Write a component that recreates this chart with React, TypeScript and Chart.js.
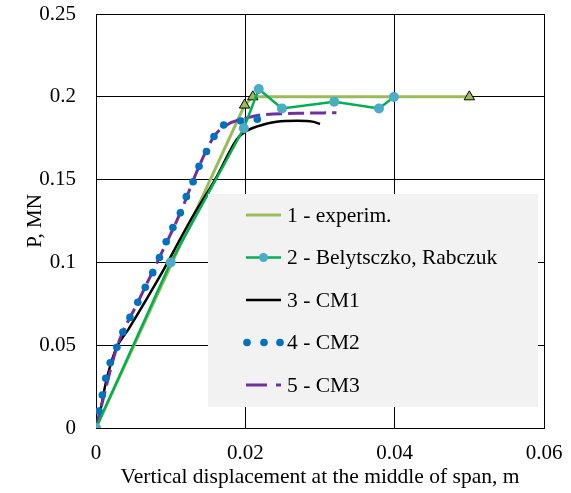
import React, { useEffect, useRef } from "react";
import { Chart, registerables } from "chart.js";

Chart.register(...registerables);

// ---- data ----
const expX = [0, 0.0199, 0.021, 0.05];
const expY = [0, 0.195, 0.2, 0.2];

const brX = [0, 0.01, 0.0198, 0.0218, 0.0249, 0.0319, 0.0379, 0.0399];
const brY = [0, 0.1, 0.181, 0.2047, 0.193, 0.197, 0.193, 0.1999];

const cm1X = [0, 0.0006, 0.0013, 0.0026, 0.0044, 0.0091, 0.0126, 0.0162, 0.0188, 0.02, 0.0215, 0.0242, 0.027, 0.029, 0.03];
const cm1Y = [0, 0.011, 0.027, 0.047, 0.06, 0.096, 0.125, 0.152, 0.174, 0.179, 0.182, 0.185, 0.1855, 0.185, 0.1836];

const cm2X = [0, 0.0004, 0.00085, 0.0013, 0.0019, 0.0028, 0.0036, 0.00455, 0.0056, 0.0066, 0.0076, 0.0085, 0.0094, 0.0103, 0.0113, 0.0121, 0.013, 0.0138, 0.0148, 0.0158, 0.0171, 0.0194, 0.0216];
const cm2Y = [0, 0.0103, 0.0199, 0.03, 0.0394, 0.0487, 0.058, 0.0668, 0.0759, 0.085, 0.0938, 0.103, 0.1125, 0.1211, 0.13, 0.1397, 0.1487, 0.158, 0.167, 0.176, 0.183, 0.1854, 0.1864];

const cm3X = [0, 0.0028, 0.0056, 0.0085, 0.0113, 0.0138, 0.0158, 0.0175, 0.02, 0.022, 0.027, 0.0322];
const cm3Y = [0, 0.0487, 0.0759, 0.103, 0.13, 0.158, 0.176, 0.183, 0.187, 0.189, 0.19, 0.1904];

const seriesNames = ["1 - experim.", "2 - Belytsczko, Rabczuk", "3 - CM1", "4 - CM2", "5 - CM3"];

const xTickLabels = ["0", "0.02", "0.04", "0.06"];
const yTickLabels = ["0", "0.05", "0.1", "0.15", "0.2", "0.25"];

const xTitle = "Vertical displacement at the middle of span, m";
const yTitle = "P, MN";

const zip = (xs: number[], ys: number[]) => xs.map((x, i) => ({ x, y: ys[i] }));

const FONT = "Liberation Serif";

const legendPlugin = {
  id: "insideLegend",
  afterDraw(chart: any) {
    const ctx = chart.ctx as CanvasRenderingContext2D;
    const ca = chart.chartArea;
    const bx = ca.left + 112;
    const by = ca.top + 180;
    const bw = 330;
    const bh = 213;
    ctx.save();
    ctx.fillStyle = "#F2F2F2";
    ctx.fillRect(bx, by, bw, bh);
    const rowY0 = by + 21;
    const rowGap = 42.5;
    const sx0 = bx + 38;
    const sx1 = bx + 73;
    const tx = bx + 79;
    ctx.font = `21.5px "${FONT}"`;
    ctx.textBaseline = "middle";
    ctx.textAlign = "left";
    seriesNames.forEach((name, i) => {
      const y = rowY0 + i * rowGap;
      const ds = chart.data.datasets[i];
      if (i === 0 || i === 1 || i === 2) {
        ctx.beginPath();
        ctx.strokeStyle = ds.borderColor;
        ctx.lineWidth = ds.borderWidth;
        ctx.moveTo(sx0, y);
        ctx.lineTo(sx1, y);
        ctx.stroke();
        if (i === 1) {
          ctx.beginPath();
          ctx.fillStyle = ds.pointBackgroundColor;
          ctx.arc((sx0 + sx1) / 2, y, 4.5, 0, Math.PI * 2);
          ctx.fill();
        }
      } else if (i === 3) {
        ctx.fillStyle = ds.pointBackgroundColor;
        [sx0 + 1, sx0 + 18, sx0 + 34].forEach((cx) => {
          ctx.beginPath();
          ctx.arc(cx, y, 3.8, 0, Math.PI * 2);
          ctx.fill();
        });
      } else {
        ctx.beginPath();
        ctx.strokeStyle = ds.borderColor;
        ctx.lineWidth = ds.borderWidth;
        ctx.moveTo(sx0, y);
        ctx.lineTo(sx0 + 21, y);
        ctx.moveTo(sx0 + 30, y);
        ctx.lineTo(sx1, y);
        ctx.stroke();
      }
      ctx.fillStyle = "#000";
      ctx.fillText(name, tx, y + 1);
    });
    ctx.restore();
  },
};

export default function App() {
  const ref = useRef<HTMLCanvasElement | null>(null);

  useEffect(() => {
    if (!ref.current) return;
    const chart = new Chart(ref.current, {
      type: "scatter",
      data: {
        datasets: [
          {
            label: seriesNames[0],
            data: zip(expX, expY),
            showLine: true,
            borderColor: "#9BBB59",
            borderWidth: 3,
            pointStyle: "triangle",
            pointRadius: [0, 6, 6, 6],
            pointBackgroundColor: "#9BBB59",
            pointBorderColor: "#000",
            pointBorderWidth: 1,
            order: 3,
          },
          {
            label: seriesNames[1],
            data: zip(brX, brY),
            showLine: true,
            borderColor: "#00B050",
            borderWidth: 2.5,
            pointRadius: 5,
            pointBackgroundColor: "#4BACC6",
            pointBorderColor: "#4BACC6",
            pointBorderWidth: 0,
            order: 0,
          },
          {
            label: seriesNames[2],
            data: zip(cm1X, cm1Y),
            showLine: true,
            borderColor: "#000000",
            borderWidth: 2.5,
            pointRadius: 0,
            cubicInterpolationMode: "monotone",
            order: 2,
          },
          {
            label: seriesNames[3],
            data: zip(cm2X, cm2Y),
            showLine: false,
            pointRadius: 3.8,
            pointBackgroundColor: "#0070C0",
            pointBorderColor: "#0070C0",
            pointBorderWidth: 0,
            borderColor: "#0070C0",
            order: 1,
          },
          {
            label: seriesNames[4],
            data: zip(cm3X, cm3Y),
            showLine: true,
            borderColor: "#7030A0",
            borderWidth: 3,
            borderDash: [16, 6],
            pointRadius: 0,
            cubicInterpolationMode: "monotone",
            order: 1.5,
          },
        ],
      },
      options: {
        animation: false,
        responsive: true,
        maintainAspectRatio: false,
        layout: { padding: { left: 0, top: 14, right: 27, bottom: 0 } },
        plugins: {
          legend: { display: false },
          tooltip: { enabled: false },
        },
        scales: {
          x: {
            type: "linear",
            min: 0,
            max: 0.06,
            ticks: {
              stepSize: 0.02,
              color: "#000",
              padding: 13,
              font: { family: FONT, size: 21 },
              callback: (_v: any, i: number) => xTickLabels[i],
            },
            grid: { color: "#000", lineWidth: 1, drawTicks: false },
            border: { color: "#000", width: 1 },
            title: {
              display: true,
              text: xTitle,
              color: "#000",
              font: { family: FONT, size: 21.5 },
              padding: { top: 0, bottom: 3 },
            },
            afterFit: (s: any) => {
              s.height = 65;
              s.paddingLeft = 0;
              s.paddingRight = 0;
            },
          },
          y: {
            type: "linear",
            min: 0,
            max: 0.25,
            ticks: {
              stepSize: 0.05,
              color: "#000",
              padding: 20,
              font: { family: FONT, size: 21 },
              callback: (_v: any, i: number) => yTickLabels[i],
            },
            grid: { color: "#000", lineWidth: 1, drawTicks: false },
            border: { color: "#000", width: 1 },
            title: {
              display: true,
              text: yTitle,
              color: "#000",
              font: { family: FONT, size: 21 },
              padding: { top: 23, bottom: 0 },
            },
            afterFit: (s: any) => {
              s.width = 96;
              s.paddingTop = 0;
              s.paddingBottom = 0;
            },
          },
        },
      },
      plugins: [legendPlugin],
    });
    return () => chart.destroy();
  }, []);

  return (
    <div style={{ position: "fixed", left: 0, top: 0, width: 571, height: 493, background: "#fff" }}>
      <canvas ref={ref} />
    </div>
  );
}
